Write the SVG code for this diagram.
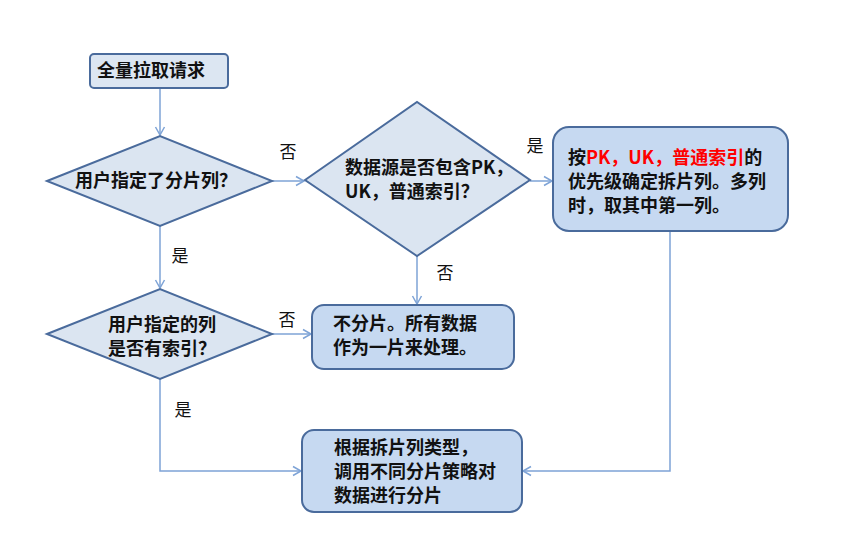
<svg xmlns="http://www.w3.org/2000/svg" width="844" height="533" viewBox="0 0 844 533">
<style>
.t{font-family:"Noto Sans CJK SC","Liberation Sans",sans-serif;font-size:18px;font-weight:bold;fill:#111}
.lb{font-family:"Noto Sans CJK SC","Liberation Sans",sans-serif;font-size:17px;fill:#111}
.dia{fill:#dbe5f1;stroke:#4a6b9c;stroke-width:2}
.sb{fill:#dce6f2;stroke:#4a6b9c;stroke-width:2}
.rb{fill:#c6d9f1;stroke:#4a6b9c;stroke-width:2}
.c{fill:none;stroke:#7ea3d6;stroke-width:1.5}
.red{fill:#ff0000}
</style>
<defs>
<marker id="a" markerWidth="12" markerHeight="12" refX="10" refY="6" orient="auto" markerUnits="userSpaceOnUse">
<polyline points="2,1.5 10,6 2,10.5" fill="none" stroke="#7ea3d6" stroke-width="1.5"/>
</marker>
</defs>
<rect width="844" height="533" fill="#fff"/>
<g id="connectors">
<line class="c" x1="160" y1="88" x2="160" y2="135" marker-end="url(#a)"/>
<line class="c" x1="272" y1="181" x2="304" y2="181" marker-end="url(#a)"/>
<line class="c" x1="530" y1="181" x2="552" y2="181" marker-end="url(#a)"/>
<line class="c" x1="160" y1="226" x2="160" y2="288" marker-end="url(#a)"/>
<line class="c" x1="417" y1="256" x2="417" y2="304" marker-end="url(#a)"/>
<line class="c" x1="272" y1="334" x2="311" y2="334" marker-end="url(#a)"/>
<polyline class="c" points="160,379 160,471 301,471" marker-end="url(#a)"/>
<polyline class="c" points="670,231 670,471 523,471" marker-end="url(#a)"/>
<text class="lb" x="288" y="158" text-anchor="middle">否</text>
<text class="lb" x="535" y="152" text-anchor="middle">是</text>
<text class="lb" x="180" y="262" text-anchor="middle">是</text>
<text class="lb" x="445" y="279" text-anchor="middle">否</text>
<text class="lb" x="287" y="326" text-anchor="middle">否</text>
<text class="lb" x="183" y="416" text-anchor="middle">是</text>
</g>
<g id="start">
<rect class="sb" x="90" y="54" width="138" height="34" rx="4"/>
<text class="t" x="97" y="77">全量拉取请求</text>
</g>
<g id="d1">
<polygon class="dia" points="47,181 160,136 272,181 160,226"/>
<text class="t" x="75" y="187">用户指定了分片列？</text>
</g>
<g id="d2">
<polygon class="dia" points="305,180 417,102 530,180 417,256"/>
<text class="t" x="345" y="174">数据源是否包含PK，</text>
<text class="t" x="345" y="198">UK，普通索引？</text>
</g>
<g id="b3">
<rect class="rb" x="553" y="127" width="235" height="104" rx="16"/>
<text class="t" x="568" y="164">按<tspan class="red">PK，UK，普通索引</tspan>的</text>
<text class="t" x="568" y="188">优先级确定拆片列。多列</text>
<text class="t" x="568" y="212">时，取其中第一列。</text>
</g>
<g id="d3">
<polygon class="dia" points="47,334 160,289 272,334 160,379"/>
<text class="t" x="108" y="331">用户指定的列</text>
<text class="t" x="108" y="355">是否有索引？</text>
</g>
<g id="b4">
<rect class="rb" x="312" y="305" width="202" height="64" rx="12"/>
<text class="t" x="333" y="330">不分片。所有数据</text>
<text class="t" x="333" y="354">作为一片来处理。</text>
</g>
<g id="b5">
<rect class="rb" x="302" y="430" width="220" height="82" rx="12"/>
<text class="t" x="334" y="454">根据拆片列类型，</text>
<text class="t" x="334" y="478">调用不同分片策略对</text>
<text class="t" x="334" y="502">数据进行分片</text>
</g>
</svg>
